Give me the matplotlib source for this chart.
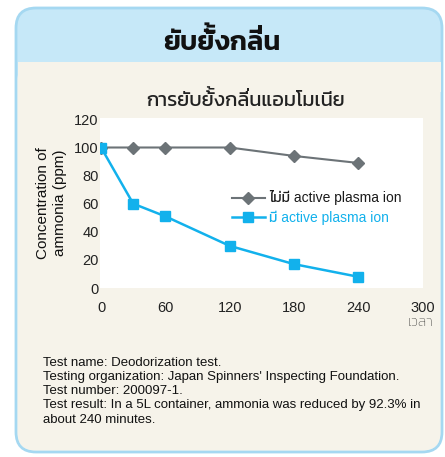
import matplotlib
matplotlib.use("Agg")
import numpy as np
import matplotlib.pyplot as plt
from matplotlib.patches import FancyBboxPatch, Rectangle, PathPatch
from matplotlib.textpath import TextPath
from matplotlib.font_manager import FontProperties
from matplotlib.path import Path
from matplotlib.transforms import Affine2D

# ---------------- data ----------------
minutes = [0, 30, 60, 120, 180, 240]
no_ion = [100, 100, 100, 100, 94, 89]
with_ion = [100, 60, 51, 30, 17, 8]
xticks = [0, 60, 120, 180, 240, 300]
yticks = [0, 20, 40, 60, 80, 100, 120]

header = "ยับยั้งกลิ่น"
chart_title = "การยับยั้งกลิ่นแอมโมเนีย"
label_no = "ไม่มี active plasma ion"
label_with = "มี active plasma ion"
xlabel = "เวลา"
ylabel = "Concentration of\nammonia (ppm)"
notes = ("Test name: Deodorization test.\n"
         "Testing organization: Japan Spinners' Inspecting Foundation.\n"
         "Test number: 200097-1.\n"
         "Test result: In a 5L container, ammonia was reduced by 92.3% in\n"
         "about 240 minutes.")

LATIN = ["Liberation Sans", "Kanit", "DejaVu Sans"]
GRAY = "#6c7377"
BLUE = "#12b1ec"
UPPER_VOWELS = "\u0e31\u0e34\u0e35\u0e36\u0e37\u0e47"
TONES = "\u0e48\u0e49\u0e4a\u0e4b\u0e4c"

W, H = 445, 457
fig = plt.figure(figsize=(W / 100, H / 100), dpi=100)
fig.patch.set_facecolor("white")

# background card, drawn in pixel coordinates
bg = fig.add_axes([0, 0, 1, 1])
bg.set_xlim(0, W)
bg.set_ylim(H, 0)
bg.axis("off")


def ext(s, fp, size):
    return TextPath((0, 0), s, size=size, prop=fp).get_extents()


def thai_text(x, y, s, pt, fp, color):
    """Centered Thai text. matplotlib has no mark positioning, so a tone mark
    sitting on an upper vowel is drawn again, raised, as a path."""
    bg.text(x, y, s, ha="center", va="baseline", fontproperties=fp,
            fontsize=pt, color=color)
    px = pt * 100 / 72
    full = ext(s, fp, px)
    tx = x - full.width / 2 - full.x0
    cons_top = ext("ก", fp, px).y1
    for k, ch in enumerate(s):
        if ch not in TONES or k == 0 or s[k - 1] not in UPPER_VOWELS:
            continue
        sub = "".join(c for c in s[:k] if c not in UPPER_VOWELS + TONES) + ch
        tp = TextPath((0, 0), sub, size=px, prop=fp)
        verts, codes = tp.vertices, tp.codes
        starts = list(np.where(codes == Path.MOVETO)[0]) + [len(codes)]
        parts = []
        for a, b in zip(starts[:-1], starts[1:]):
            real = codes[a:b] != Path.CLOSEPOLY
            if verts[a:b][real, 1].min() > cons_top + 0.02 * px:
                parts.append(Path(verts[a:b], codes[a:b]))
        if not parts:
            continue
        mark = Path.make_compound_path(*parts)
        dy = ext(s[k - 1], fp, px).y1 + 0.05 * px - mark.get_extents().y0
        tr = Affine2D().scale(1, -1).translate(tx, y - dy) + bg.transData
        bg.add_patch(PathPatch(mark, transform=tr, facecolor=color,
                               edgecolor="none", zorder=3))


bg.add_patch(FancyBboxPatch((16, 8), 426, 444, boxstyle="round,pad=0,rounding_size=20",
                            facecolor="#c6e8f8", edgecolor="#a5d8f1", linewidth=2))
bg.add_patch(FancyBboxPatch((17.5, 62), 423, 388.5, boxstyle="round,pad=0,rounding_size=18",
                            facecolor="#f6f3ea", edgecolor="none"))
bg.add_patch(Rectangle((17.5, 62), 423, 30, facecolor="#f6f3ea", edgecolor="none"))

thai_text(222, 50, header, 19.5, FontProperties(family="Kanit", weight="semibold"), "#111111")
thai_text(246, 106, chart_title, 14.5, FontProperties(family="Kanit", weight="normal"), "#222222")

bg.text(43, 357, notes, ha="left", va="top", fontsize=9.5,
        family=LATIN, color="#111111", linespacing=1.24)
bg.text(51.5, 203, ylabel, ha="center", va="center", rotation=90, fontsize=11,
        family=LATIN, color="#111111", linespacing=1.35)
bg.text(421, 323, xlabel, ha="center", va="center", fontsize=10.5,
        family=["Kanit"], weight="light", color="#222222")

# ---------------- chart ----------------
ax = fig.add_axes([100 / W, 1 - 288 / H, 323 / W, 170 / H])
ax.set_facecolor("white")
ax.plot(minutes, no_ion, color=GRAY, lw=1.5, marker="D", ms=6.5,
        mfc=GRAY, mec=GRAY, label=label_no, zorder=3)
ax.plot(minutes, with_ion, color=BLUE, lw=1.8, marker="s", ms=7.5,
        mfc=BLUE, mec=BLUE, label=label_with, zorder=3)

ax.set_xlim(-1, 300.5)
ax.set_ylim(0, 121)
ax.set_xticks(xticks)
ax.set_yticks(yticks)
for s in ax.spines.values():
    s.set_visible(False)
ax.tick_params(length=0, labelsize=10.5, colors="#222222")
ax.tick_params(axis="x", pad=9)
ax.tick_params(axis="y", pad=1)
for t in ax.get_xticklabels() + ax.get_yticklabels():
    t.set_family(LATIN)

leg = ax.legend(loc="upper left", bbox_to_anchor=(0.39, 0.607), frameon=False,
                handlelength=2.4, handletextpad=0.3, labelspacing=0.35,
                borderaxespad=0, prop={"family": LATIN, "size": 10})
for txt, c in zip(leg.get_texts(), ["#1a1a1a", BLUE]):
    txt.set_color(c)

fig.savefig("out.png", dpi=100)
